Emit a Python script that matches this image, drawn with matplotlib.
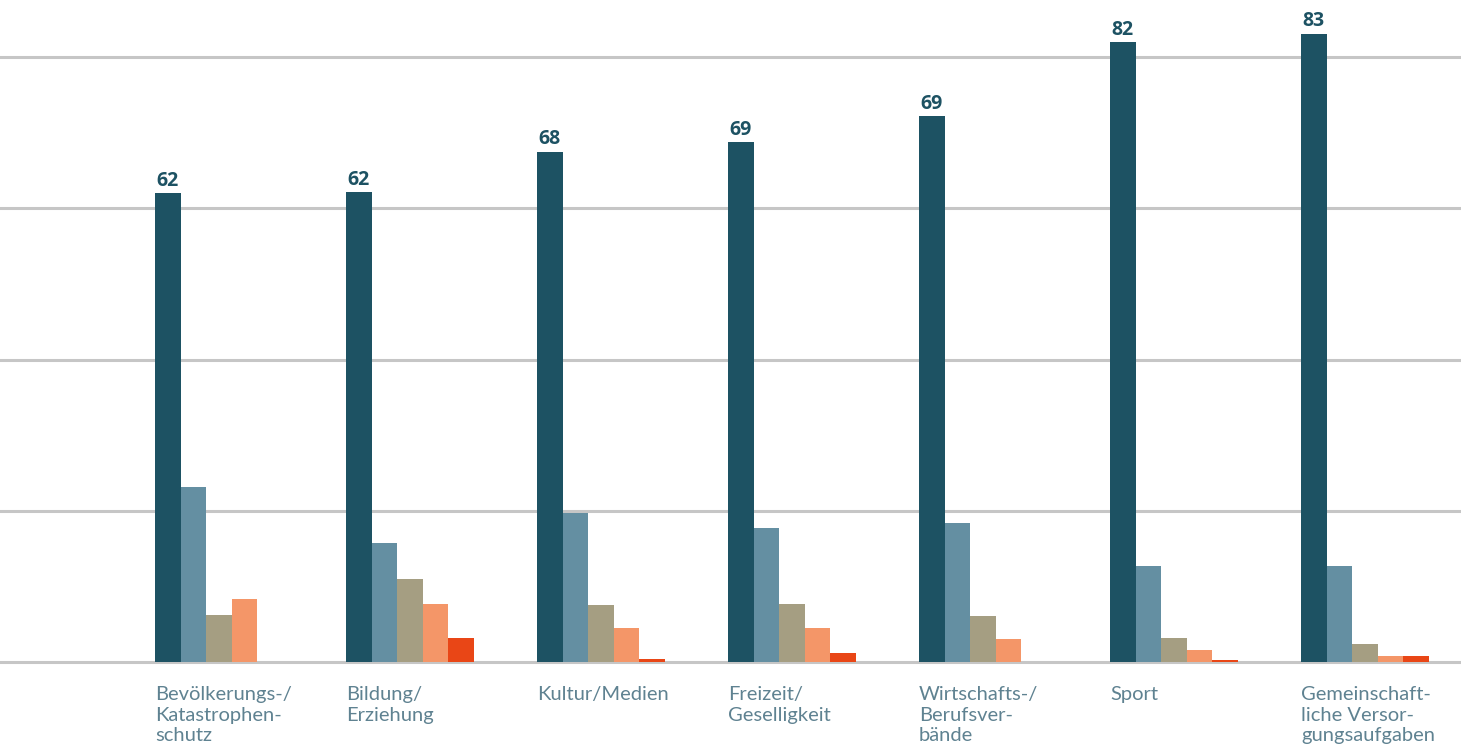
import matplotlib.pyplot as plt
import numpy as np

categorias = [
    "Bevölkerungs-/\nKatastrophen-\nschutz",
    "Bildung/\nErziehung",
    "Kultur/Medien",
    "Freizeit/\nGeselligkeit",
    "Wirtschafts-/\nBerufsver-\nbände",
    "Sport",
    "Gemeinschaft-\nliche Versor-\ngungsaufgaben",
]

# values (bar heights)
serie_1 = [62.0, 62.1, 67.5, 68.8, 72.2, 82.0, 83.1]
serie_2 = [23.1, 15.7, 19.7, 17.7, 18.4, 12.7, 12.7]
serie_3 = [6.2, 11.0, 7.5, 7.7, 6.1, 3.2, 2.4]
serie_4 = [8.3, 7.7, 4.5, 4.5, 3.0, 1.6, 0.8]
serie_5 = [0.0, 3.2, 0.4, 1.2, 0.0, 0.3, 0.8]
rotulos = ["62", "62", "68", "69", "69", "82", "83"]

series = [serie_1, serie_2, serie_3, serie_4, serie_5]
cores = ["#1d5263", "#648fa2", "#a59e82", "#f49668", "#e94616"]

fig = plt.figure(figsize=(14.61, 7.5), dpi=100)
ax = fig.add_axes([0, 88 / 750, 1, 662 / 750])

x = np.arange(len(categorias))
w = 0.134
for k, (vals, cor) in enumerate(zip(series, cores)):
    ax.bar(x + (k - 2) * w, vals, width=w, color=cor, linewidth=0, zorder=3)

for i, (v, t) in enumerate(zip(serie_1, rotulos)):
    ax.annotate(t, (x[i] - 2 * w, v), xytext=(0, 1.5), textcoords="offset points",
                ha="center", va="bottom", fontsize=14, fontweight="bold",
                color="#1d5263", family="Open Sans")

for i, c in enumerate(categorias):
    ax.text(x[i] - 2.5 * w, -3.2, c, ha="left", va="top", fontsize=14.5,
            color="#5f8291", family="Lato", fontweight="normal",
            linespacing=1.26, clip_on=False)

ax.set_xlim(-2.5 * w - 155 / 191, -2.5 * w + 1306 / 191)
ax.set_ylim(0, 662 / 7.5625)
ax.set_yticks([0, 20, 40, 60, 80])
ax.yaxis.grid(True, color="#c6c6c6", linewidth=2.2, zorder=1)
for gl in ax.get_ygridlines():
    gl.set_clip_on(False)
ax.tick_params(left=False, bottom=False, labelleft=False, labelbottom=False)
for s in ax.spines.values():
    s.set_visible(False)

fig.savefig("out.png", dpi=100)
